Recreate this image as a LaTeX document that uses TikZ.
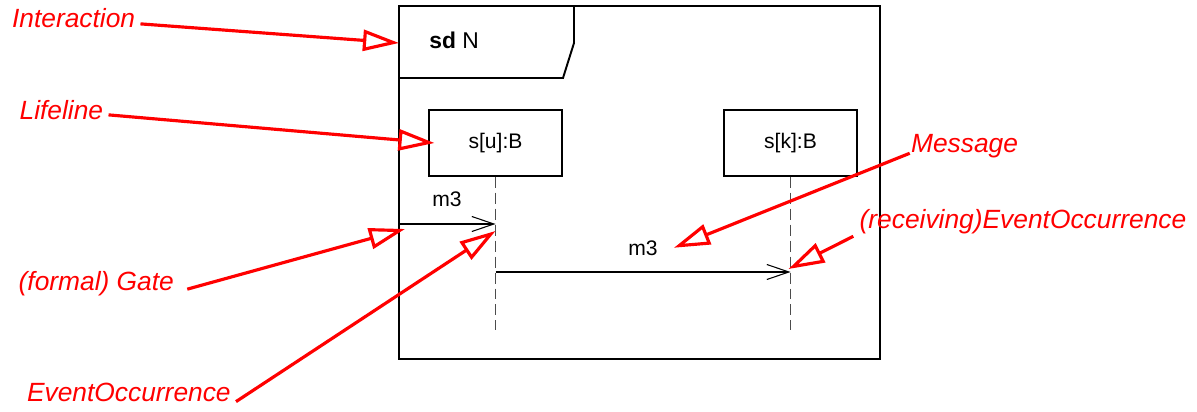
\documentclass[tikz,border=0pt]{standalone}
\usepackage{fontspec}
\setmainfont{Liberation Sans}
\usetikzlibrary{arrows.meta}

\begin{document}
\begin{tikzpicture}[x=0.02cm,y=-0.02cm,
  note/.style={text=red,font=\fontsize{15}{18}\selectfont\itshape,inner sep=0pt,anchor=base west},
  pointer/.style={red,line width=1.8pt,-{Triangle[open,length=0.72cm,width=0.42cm]}},
  lifebox/.style={draw,line width=0.6pt,minimum width=2.66cm,minimum height=1.32cm,font=\fontsize{12}{14}\selectfont},
  lifeline/.style={black!70,line width=0.7pt,dash pattern=on 0.22cm off 0.1cm},
  msg/.style={line width=0.6pt,-{Straight Barb[length=0.44cm,width=0.3cm]}},
  msglabel/.style={font=\fontsize{12}{14}\selectfont,inner sep=0pt,anchor=base west}]
  \useasboundingbox (0,0) rectangle (1197,412);

  % frame with its name tab
  \draw[line width=1.1pt] (399,6) rectangle (880,359);
  \draw[line width=1.1pt] (399,78) -- (563,78) -- (574,43) -- (574,6);
  \node[anchor=base west,inner sep=0pt,font=\fontsize{13}{16}\selectfont] (frameName) at (429,49) {\textbf{sd} N};
  \coordinate (frameLeft) at (399,43);

  \node[lifebox] (uBox) at (495.5,143) {s[u]:B};
  \node[lifebox] (kBox) at (790.5,143) {s[k]:B};
  \coordinate (lineEnd) at (0,330);
  \draw[lifeline] (uBox.south) -- (uBox.south |- lineEnd);
  \draw[lifeline] (kBox.south) -- (kBox.south |- lineEnd);

  \coordinate (gate) at (399,224);
  \coordinate (uSend) at (uBox.south |- gate);
  \coordinate (msgRow) at (0,272);
  \coordinate (uOut) at (uBox.south |- msgRow);
  \coordinate (kIn) at (kBox.south |- msgRow);
  \draw[msg] (gate) -- (uSend);
  \draw[msg] (uOut) -- (kIn);
  \node[msglabel] (gateMsg) at (432,206) {m3};
  \node[msglabel] (m3Label) at (628,255) {m3};

  % red notes
  \node[note] (interaction) at (11.7,27.3) {Interaction};
  \node[note] (lifelineNote) at (19.3,119.3) {Lifeline};
  \node[note] (gateNote) at (18.3,290) {(formal) Gate};
  \node[note] (eventNote) at (26.7,401.7) {EventOccurrence};
  \node[note] (messageNote) at (910.7,152.3) {Message};
  \node[note] (recvNote) at (859.3,228.3) {(receiving)EventOccurrence};

  \draw[pointer] ([shift={(5,6)}]interaction.east) -- (frameLeft);
  \draw[pointer] ([shift={(5,5)}]lifelineNote.east) -- ([shift={(6,0)}]uBox.west);
  \draw[pointer] ([shift={(13,6)}]gateNote.east) -- ([shift={(6,5)}]gate);
  \draw[pointer] ([shift={(5,9)}]eventNote.east) -- ([shift={(0,7)}]uSend);
  \draw[pointer] ([shift={(-1,1)}]messageNote.base west) -- ([shift={(16,0)}]m3Label.east);
  \draw[pointer] ([shift={(-6,8)}]recvNote.base west) -- ([shift={(-2,-3)}]kIn);
\end{tikzpicture}
\end{document}
